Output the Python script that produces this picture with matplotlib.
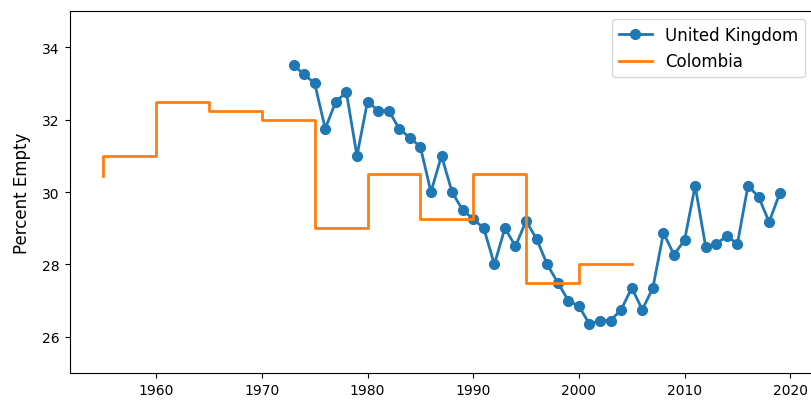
import matplotlib
matplotlib.use('Agg')
import matplotlib.pyplot as plt

# United Kingdom yearly values
uk_years = list(range(1973, 2020))
uk_values = [33.5, 33.25, 33.0, 31.75, 32.5, 32.75, 31.0, 32.5, 32.25, 32.25,
             31.75, 31.5, 31.25, 30.0, 31.0, 30.0, 29.5, 29.25, 29.0, 28.0,
             29.0, 28.5, 29.2, 28.7, 28.0, 27.5, 27.0, 26.85, 26.35, 26.45,
             26.45, 26.75, 27.35, 26.75, 27.35, 28.87, 28.27, 28.67, 30.17, 28.48,
             28.57, 28.78, 28.57, 30.17, 29.87, 29.17, 29.96]

# Colombia five-yearly values
col_years = [1955, 1960, 1965, 1970, 1975, 1980, 1985, 1990, 1995, 2000, 2005]
col_values = [30.45, 31.0, 32.5, 32.25, 32.0, 29.0, 30.5, 29.25, 30.5, 27.5, 28.0]

fig = plt.figure(figsize=(8.11, 4.02), dpi=100)
ax = fig.add_axes([69.5 / 811, 28 / 402, 744 / 811, 362 / 402])

ax.plot(uk_years, uk_values, marker='o', linewidth=2, markersize=7, label='United Kingdom')
ax.step(col_years, col_values, where='pre', linewidth=2, label='Colombia')

ax.set_ylim(25, 35)
ax.set_ylabel('Percent Empty', fontsize=12, labelpad=8)
ax.legend(loc='upper right', fontsize=12)

fig.savefig('out.png', dpi=100)
